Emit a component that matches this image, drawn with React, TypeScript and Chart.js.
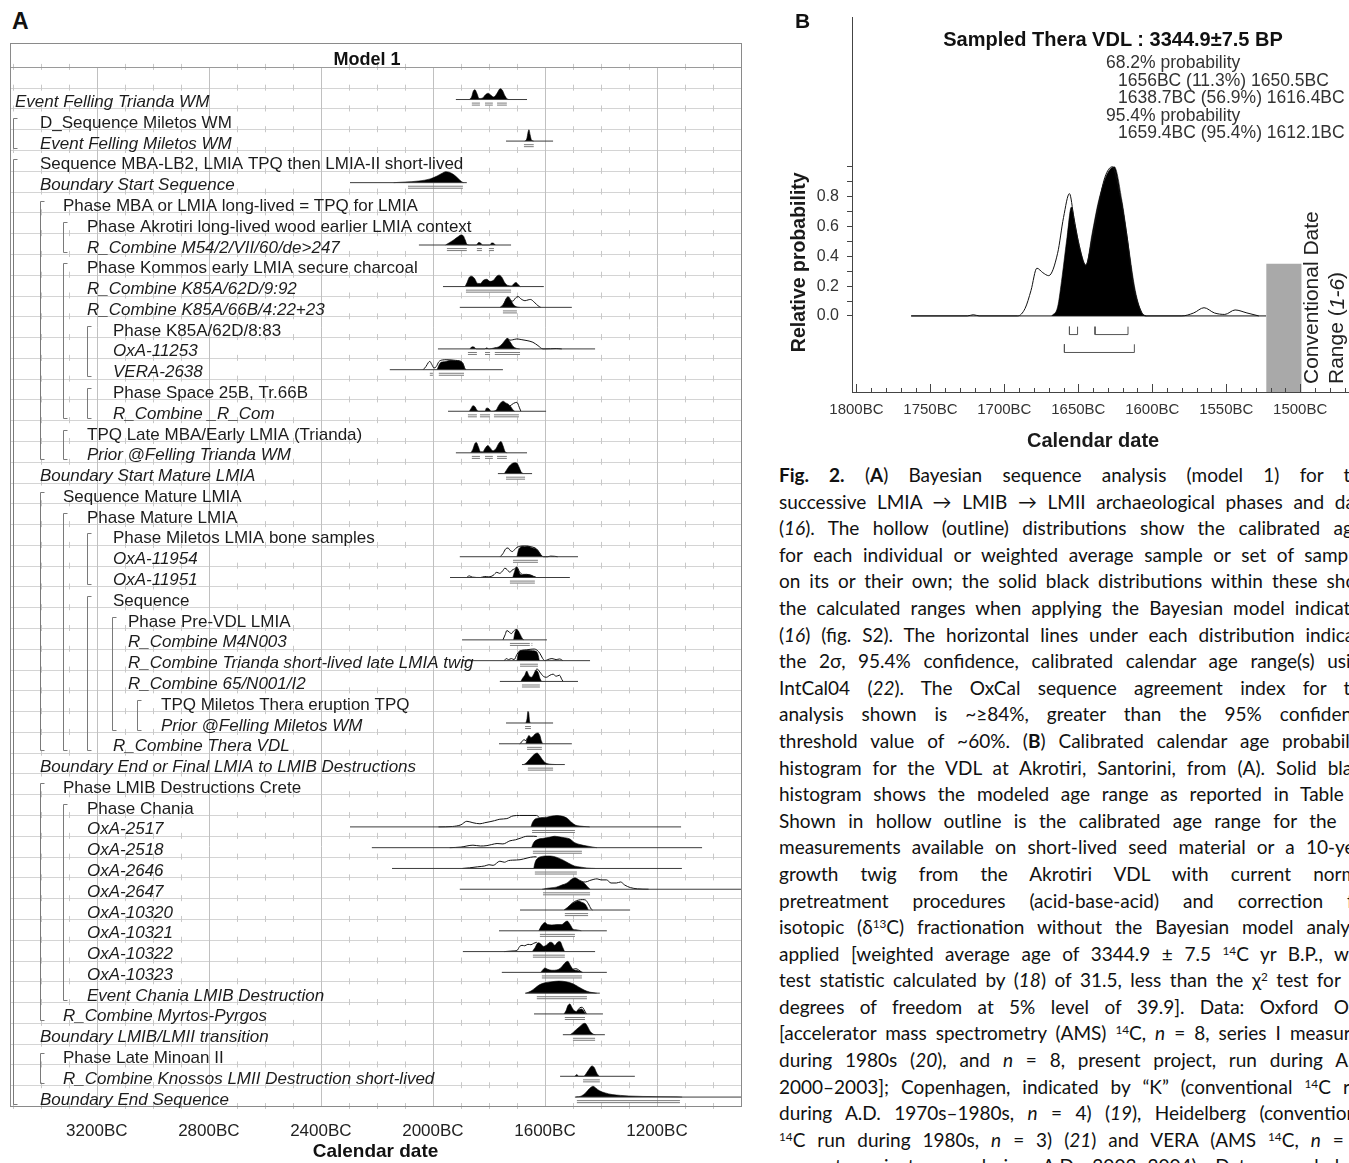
import React, { useEffect, useRef } from "react";
import { Chart, registerables } from "chart.js";

Chart.register(...registerables);

const FONT = '"Liberation Sans", Arial, Helvetica, sans-serif';

/* ---------------- Panel A data ---------------- */
const rowLabels = [
  "Event Felling Trianda WM",
  "D_Sequence Miletos WM",
  "Event Felling Miletos WM",
  "Sequence MBA-LB2, LMIA TPQ then LMIA-II short-lived",
  "Boundary Start Sequence",
  "Phase MBA or LMIA long-lived = TPQ for LMIA",
  "Phase Akrotiri long-lived wood earlier LMIA context",
  "R_Combine M54/2/VII/60/de>247",
  "Phase Kommos early LMIA secure charcoal",
  "R_Combine K85A/62D/9:92",
  "R_Combine K85A/66B/4:22+23",
  "Phase K85A/62D/8:83",
  "OxA-11253",
  "VERA-2638",
  "Phase Space 25B, Tr.66B",
  "R_Combine _R_Com",
  "TPQ Late MBA/Early LMIA (Trianda)",
  "Prior @Felling Trianda WM",
  "Boundary Start Mature LMIA",
  "Sequence Mature LMIA",
  "Phase Mature LMIA",
  "Phase Miletos LMIA bone samples",
  "OxA-11954",
  "OxA-11951",
  "Sequence",
  "Phase Pre-VDL LMIA",
  "R_Combine M4N003",
  "R_Combine Trianda short-lived late LMIA twig",
  "R_Combine 65/N001/I2",
  "TPQ Miletos Thera eruption TPQ",
  "Prior @Felling Miletos WM",
  "R_Combine Thera VDL",
  "Boundary End or Final LMIA to LMIB Destructions",
  "Phase LMIB Destructions Crete",
  "Phase Chania",
  "OxA-2517",
  "OxA-2518",
  "OxA-2646",
  "OxA-2647",
  "OxA-10320",
  "OxA-10321",
  "OxA-10322",
  "OxA-10323",
  "Event Chania LMIB Destruction",
  "R_Combine Myrtos-Pyrgos",
  "Boundary LMIB/LMII transition",
  "Phase Late Minoan II",
  "R_Combine Knossos LMII Destruction short-lived",
  "Boundary End Sequence",
];

const rowLevels = [
  0, 1, 1, 1, 1, 2, 3, 3, 3, 3, 3, 4, 4, 4, 4, 4, 3, 3, 1, 2, 3, 4, 4, 4, 4,
  5, 5, 5, 5, 6, 6, 4, 1, 2, 3, 3, 3, 3, 3, 3, 3, 3, 3, 3, 2, 1, 2, 2, 1,
];

const rowItalic = [
  1, 0, 1, 0, 1, 0, 0, 1, 0, 1, 1, 0, 1, 1, 0, 1, 0, 1, 1, 0, 0, 0, 1, 1, 0,
  0, 1, 1, 1, 0, 1, 1, 1, 0, 0, 1, 1, 1, 1, 1, 1, 1, 1, 1, 1, 1, 0, 1, 1,
];

// [first row, last row, bracket level]
const groupBrackets = [
  [1, 2, 0], [3, 48, 0], [5, 17, 1], [6, 7, 2], [8, 15, 2], [11, 13, 3],
  [14, 15, 3], [16, 17, 2], [19, 31, 1], [20, 31, 2], [21, 23, 3],
  [24, 31, 3], [25, 30, 4], [29, 30, 5], [33, 44, 1], [34, 43, 2], [46, 47, 1],
];

const yearTicksA = [3200, 2800, 2400, 2000, 1600, 1200];

// [row, from (BC), to (BC)]
const baselineSpans = [
  [0, 1918, 1664], [2, 1739, 1571], [4, 2296, 1879], [7, 2050, 1721],
  [9, 1964, 1604], [10, 1904, 1504], [12, 1982, 1421], [13, 2154, 1750],
  [15, 1946, 1596], [17, 1918, 1664], [18, 1768, 1646], [22, 1904, 1482],
  [23, 1939, 1511], [26, 1896, 1593], [27, 1896, 1439], [28, 1761, 1482],
  [30, 1739, 1571], [31, 1764, 1504], [32, 1682, 1529], [35, 2296, 1114],
  [36, 2218, 1039], [37, 2146, 1111], [38, 1904, 900], [39, 1689, 1296],
  [40, 1764, 1379], [41, 1893, 1421], [42, 1754, 1379], [43, 1671, 1404],
  [44, 1639, 1393], [45, 1536, 1386], [47, 1546, 1279], [48, 1493, 900],
];

// [row, [[year BC, height], ...]] modelled (solid) distributions
const posteriorCurves: [number, number[][]][] = [
  [0, [[1870, 0], [1862, 0.12], [1856, 0.4], [1850, 0.47], [1843, 0.3], [1835, 0.05], [1824, 0.06], [1813, 0.22], [1803, 0.3], [1794, 0.22], [1783, 0.12], [1771, 0.3], [1760, 0.52], [1752, 0.45], [1743, 0.18], [1735, 0.03], [1728, 0]]],
  [2, [[1672, 0], [1665, 0.1], [1660, 0.45], [1657, 0.55], [1653, 0.3], [1648, 0.05], [1640, 0]]],
  [4, [[2140, 0], [2100, 0.03], [2050, 0.08], [2010, 0.18], [1985, 0.32], [1965, 0.47], [1955, 0.53], [1942, 0.5], [1925, 0.38], [1910, 0.2], [1897, 0.04], [1890, 0]]],
  [7, [[1955, 0], [1940, 0.12], [1925, 0.25], [1912, 0.38], [1900, 0.48], [1892, 0.45], [1885, 0.25], [1878, 0.02], [1870, 0], [1845, 0], [1837, 0.12], [1830, 0.1], [1823, 0], [1797, 0], [1790, 0.1], [1783, 0.08], [1777, 0]]],
  [9, [[1885, 0], [1878, 0.2], [1870, 0.45], [1862, 0.5], [1852, 0.4], [1840, 0.15], [1830, 0.15], [1820, 0.3], [1808, 0.35], [1796, 0.25], [1784, 0.3], [1772, 0.5], [1764, 0.55], [1754, 0.45], [1744, 0.2], [1732, 0.05], [1720, 0.03], [1710, 0.15], [1703, 0.2], [1696, 0.1], [1688, 0]]],
  [10, [[1758, 0], [1750, 0.1], [1742, 0.3], [1735, 0.48], [1730, 0.5], [1722, 0.35], [1712, 0.12], [1700, 0.02], [1690, 0]]],
  [12, [[1868, 0], [1860, 0.1], [1852, 0.08], [1845, 0], [1815, 0], [1808, 0.05], [1800, 0], [1780, 0.05], [1765, 0.1], [1752, 0.25], [1740, 0.45], [1733, 0.5], [1725, 0.35], [1712, 0.1], [1700, 0.02], [1690, 0]]],
  [13, [[1985, 0], [1979, 0.2], [1972, 0.35], [1960, 0.38], [1948, 0.42], [1935, 0.45], [1920, 0.43], [1905, 0.42], [1893, 0.3], [1886, 0.05], [1882, 0]]],
  [15, [[1870, 0], [1863, 0.15], [1857, 0.27], [1850, 0.22], [1842, 0.04], [1835, 0], [1815, 0], [1808, 0.16], [1800, 0.12], [1792, 0], [1775, 0.05], [1765, 0.28], [1755, 0.45], [1749, 0.48], [1740, 0.4], [1732, 0.35], [1722, 0.22], [1715, 0.08], [1708, 0]]],
  [17, [[1865, 0], [1858, 0.15], [1850, 0.45], [1845, 0.5], [1838, 0.3], [1830, 0.05], [1822, 0.05], [1812, 0.25], [1804, 0.35], [1796, 0.25], [1786, 0.1], [1775, 0.2], [1765, 0.45], [1757, 0.55], [1750, 0.35], [1742, 0.05], [1735, 0]]],
  [18, [[1745, 0], [1738, 0.15], [1728, 0.35], [1718, 0.48], [1708, 0.52], [1700, 0.5], [1692, 0.3], [1685, 0.08], [1678, 0]]],
  [22, [[1700, 0], [1694, 0.35], [1688, 0.45], [1680, 0.5], [1672, 0.48], [1664, 0.5], [1655, 0.48], [1645, 0.42], [1635, 0.4], [1625, 0.3], [1615, 0.1], [1608, 0]]],
  [23, [[1715, 0], [1708, 0.3], [1702, 0.5], [1695, 0.35], [1688, 0.15], [1678, 0.12], [1665, 0.15], [1650, 0.12], [1640, 0.05], [1632, 0]]],
  [26, [[1712, 0], [1707, 0.35], [1702, 0.5], [1696, 0.45], [1688, 0.25], [1680, 0.05], [1675, 0]]],
  [27, [[1700, 0], [1694, 0.4], [1685, 0.48], [1675, 0.5], [1660, 0.5], [1645, 0.48], [1632, 0.45], [1625, 0.3], [1620, 0]]],
  [28, [[1686, 0], [1680, 0.15], [1672, 0.3], [1665, 0.5], [1658, 0.3], [1648, 0.2], [1640, 0.35], [1632, 0.52], [1625, 0.45], [1618, 0.15], [1612, 0]]],
  [30, [[1668, 0], [1664, 0.2], [1661, 0.55], [1658, 0.5], [1655, 0.1], [1652, 0]]],
  [31, [[1668, 0], [1663, 0.25], [1657, 0.4], [1650, 0.3], [1643, 0.35], [1634, 0.48], [1625, 0.52], [1618, 0.4], [1613, 0.15], [1608, 0]]],
  [32, [[1675, 0], [1665, 0.1], [1655, 0.25], [1645, 0.4], [1635, 0.52], [1628, 0.55], [1620, 0.45], [1610, 0.25], [1600, 0.1], [1590, 0.04], [1575, 0.01], [1560, 0]]],
  [35, [[1650, 0], [1645, 0.2], [1635, 0.38], [1625, 0.42], [1610, 0.45], [1593, 0.47], [1575, 0.52], [1557, 0.55], [1540, 0.52], [1521, 0.42], [1505, 0.22], [1490, 0.08], [1475, 0.04], [1450, 0.01], [1440, 0]]],
  [36, [[1648, 0], [1640, 0.25], [1625, 0.4], [1605, 0.45], [1585, 0.5], [1565, 0.55], [1550, 0.52], [1530, 0.48], [1511, 0.42], [1495, 0.25], [1475, 0.15], [1450, 0.08], [1425, 0.02], [1414, 0]]],
  [37, [[1640, 0], [1635, 0.3], [1625, 0.5], [1610, 0.58], [1590, 0.6], [1570, 0.58], [1555, 0.52], [1535, 0.4], [1515, 0.25], [1495, 0.12], [1470, 0.06], [1450, 0.02], [1420, 0]]],
  [38, [[1610, 0], [1590, 0.05], [1560, 0.1], [1540, 0.2], [1521, 0.3], [1505, 0.48], [1493, 0.55], [1478, 0.45], [1464, 0.35], [1450, 0.15], [1439, 0]]],
  [39, [[1532, 0], [1520, 0.12], [1505, 0.3], [1490, 0.4], [1482, 0.43], [1470, 0.38], [1458, 0.3], [1450, 0.15], [1445, 0]]],
  [40, [[1622, 0], [1612, 0.25], [1600, 0.4], [1590, 0.3], [1575, 0.28], [1557, 0.3], [1540, 0.3], [1530, 0.4], [1521, 0.47], [1510, 0.3], [1500, 0.08], [1490, 0.05], [1480, 0.03], [1470, 0]]],
  [41, [[1645, 0], [1635, 0.2], [1625, 0.42], [1618, 0.4], [1605, 0.25], [1595, 0.3], [1582, 0.45], [1575, 0.44], [1565, 0.3], [1555, 0.45], [1546, 0.48], [1538, 0.25], [1530, 0]]],
  [42, [[1615, 0], [1608, 0.12], [1600, 0.21], [1590, 0.15], [1575, 0.1], [1557, 0.12], [1545, 0.2], [1535, 0.35], [1525, 0.5], [1518, 0.53], [1510, 0.35], [1500, 0.15], [1488, 0.1], [1475, 0.05], [1465, 0]]],
  [43, [[1668, 0], [1650, 0.1], [1635, 0.25], [1620, 0.4], [1600, 0.5], [1575, 0.55], [1550, 0.58], [1525, 0.55], [1500, 0.45], [1480, 0.3], [1460, 0.15], [1440, 0.05], [1415, 0]]],
  [44, [[1532, 0], [1525, 0.15], [1518, 0.4], [1511, 0.48], [1503, 0.3], [1495, 0.15], [1488, 0.12], [1480, 0.2], [1470, 0.24], [1462, 0.15], [1455, 0]]],
  [45, [[1510, 0], [1500, 0.1], [1488, 0.25], [1475, 0.4], [1465, 0.52], [1457, 0.55], [1448, 0.4], [1438, 0.15], [1428, 0.03], [1420, 0]]],
  [47, [[1493, 0], [1486, 0.08], [1480, 0], [1462, 0], [1452, 0.15], [1442, 0.35], [1432, 0.5], [1424, 0.42], [1415, 0.15], [1406, 0]]],
  [48, [[1490, 0], [1470, 0.05], [1455, 0.2], [1440, 0.42], [1428, 0.52], [1420, 0.45], [1405, 0.3], [1385, 0.2], [1360, 0.12], [1330, 0.08], [1300, 0.05], [1250, 0.03], [1200, 0.02], [1150, 0.01], [1110, 0]]],
];

// [row, [[year BC, height], ...]] unmodelled (hollow) distributions
const likelihoodCurves: [number, number[][]][] = [
  [10, [[1760, 0], [1748, 0.15], [1738, 0.42], [1732, 0.5], [1725, 0.35], [1715, 0.3], [1705, 0.45], [1696, 0.52], [1685, 0.4], [1671, 0.32], [1660, 0.36], [1652, 0.38], [1636, 0.22], [1625, 0.08], [1615, 0]]],
  [12, [[1740, 0.45], [1733, 0.5], [1725, 0.42], [1715, 0.44], [1700, 0.48], [1685, 0.45], [1664, 0.4], [1643, 0.32], [1625, 0.16], [1607, 0], [1580, 0.01], [1560, 0.02], [1540, 0]]],
  [13, [[2035, 0], [2025, 0.15], [2016, 0.35], [2011, 0.4], [2004, 0.25], [1996, 0.08], [1988, 0.15], [1979, 0.38], [1965, 0.47], [1950, 0.48], [1935, 0.47], [1920, 0.45], [1905, 0.42], [1893, 0.3], [1886, 0.05], [1882, 0]]],
  [15, [[1725, 0.25], [1712, 0.38], [1700, 0.43], [1692, 0.2], [1686, 0]]],
  [22, [[1760, 0], [1750, 0.15], [1740, 0.38], [1732, 0.42], [1724, 0.3], [1716, 0.25], [1708, 0.35], [1700, 0.45], [1690, 0.5], [1680, 0.52], [1665, 0.52], [1650, 0.48], [1635, 0.42], [1625, 0.3], [1615, 0.1], [1605, 0], [1590, 0], [1580, 0.03], [1565, 0.02], [1555, 0]]],
  [23, [[1880, 0], [1870, 0.08], [1860, 0.02], [1830, 0], [1815, 0.05], [1800, 0.03], [1785, 0.1], [1772, 0.25], [1762, 0.2], [1752, 0.3], [1743, 0.45], [1735, 0.38], [1725, 0.25], [1718, 0.35], [1708, 0.42], [1700, 0.5], [1692, 0.3], [1680, 0.15], [1665, 0.15], [1650, 0.1], [1640, 0.05], [1630, 0]]],
  [26, [[1750, 0], [1742, 0.25], [1736, 0.45], [1728, 0.38], [1720, 0.3], [1712, 0.42], [1703, 0.5], [1695, 0.4]]],
  [27, [[1745, 0], [1738, 0.1], [1730, 0.05], [1720, 0.1], [1710, 0.05], [1700, 0.3], [1692, 0.45], [1680, 0.5], [1665, 0.52], [1650, 0.55], [1638, 0.56], [1628, 0.5], [1618, 0.35], [1608, 0.1], [1600, 0], [1590, 0.05], [1575, 0.1], [1560, 0.05], [1548, 0.08], [1536, 0]]],
  [28, [[1636, 0.5], [1628, 0.6], [1618, 0.45], [1606, 0.25], [1595, 0.2], [1582, 0.3], [1571, 0.35], [1560, 0.25], [1548, 0.3], [1540, 0.1], [1535, 0]]],
  [31, [[1690, 0], [1682, 0.1], [1675, 0.2], [1668, 0.15], [1663, 0.28]]],
  [35, [[1980, 0], [1930, 0.02], [1900, 0.1], [1879, 0.27], [1857, 0.2], [1832, 0.15], [1815, 0.2], [1796, 0.25], [1780, 0.3], [1761, 0.37], [1736, 0.4], [1714, 0.53], [1690, 0.55], [1664, 0.55], [1630, 0.55], [1620, 0.45]]],
  [36, [[1940, 0], [1900, 0.03], [1857, 0.12], [1830, 0.08], [1807, 0.1], [1790, 0.15], [1771, 0.2], [1750, 0.18], [1725, 0.33], [1705, 0.38], [1689, 0.45], [1664, 0.55], [1640, 0.55], [1629, 0.54]]],
  [37, [[1895, 0], [1870, 0.03], [1840, 0.08], [1815, 0.12], [1800, 0.18], [1785, 0.15], [1761, 0.35], [1745, 0.3], [1730, 0.38], [1715, 0.4], [1689, 0.42], [1664, 0.5], [1640, 0.56], [1630, 0.56]]],
  [38, [[1470, 0.35], [1455, 0.35], [1440, 0.42], [1425, 0.48], [1414, 0.5], [1400, 0.45], [1380, 0.45], [1364, 0.3], [1345, 0.3], [1330, 0.35], [1315, 0.2], [1295, 0.08], [1270, 0.02], [1230, 0]]],
  [39, [[1505, 0.3], [1495, 0.4], [1480, 0.48], [1465, 0.5], [1455, 0.48], [1445, 0.3], [1435, 0.05], [1430, 0]]],
  [41, [[1745, 0], [1714, 0.03], [1700, 0.05], [1690, 0.25], [1682, 0.3], [1672, 0.28], [1661, 0.35], [1650, 0.33], [1640, 0.4], [1629, 0.45]]],
  [42, [[1500, 0.15], [1490, 0.18], [1480, 0.12], [1470, 0.02]]],
  [44, [[1485, 0.15], [1475, 0.3], [1467, 0.32], [1460, 0.2], [1452, 0]]],
];

// [row, from (BC), to (BC)] 95.4% ranges
const rangeBars = [
  [0, 1861, 1832], [0, 1814, 1786], [0, 1771, 1736], [2, 1675, 1640],
  [4, 2089, 1893], [7, 1950, 1879], [7, 1843, 1825], [7, 1800, 1782],
  [9, 1882, 1721], [10, 1750, 1700], [12, 1875, 1843], [12, 1814, 1796],
  [12, 1779, 1689], [13, 2011, 2000], [13, 1979, 1889], [15, 1875, 1843],
  [15, 1832, 1796], [15, 1782, 1693], [17, 1861, 1832], [17, 1814, 1786],
  [17, 1771, 1736], [18, 1739, 1671], [22, 1714, 1625], [23, 1725, 1636],
  [26, 1725, 1654], [26, 1648, 1645], [27, 1689, 1625], [28, 1682, 1618],
  [30, 1671, 1650], [31, 1664, 1611], [32, 1661, 1571], [35, 1646, 1493],
  [36, 1643, 1468], [37, 1636, 1486], [38, 1607, 1439], [39, 1529, 1446],
  [40, 1618, 1493], [41, 1643, 1529], [42, 1611, 1468], [43, 1629, 1450],
  [44, 1529, 1457], [45, 1500, 1421], [47, 1464, 1404], [48, 1486, 1118],
];

/* ---------------- Panel B data ---------------- */
const bTicks = [1800, 1750, 1700, 1650, 1600, 1550, 1500];
const bYTicks = [0, 0.1, 0.2, 0.3, 0.4, 0.5, 0.6, 0.7, 0.8, 0.9, 1.0];
const bBaseline = [1763, 1523];
const bLikelihood = [
  [1763, 0], [1725, 0], [1721, 0.008], [1717, 0], [1691, 0], [1686, 0.05],
  [1682, 0.17], [1678, 0.32], [1674, 0.29], [1670, 0.27], [1664, 0.42],
  [1660, 0.66], [1656, 0.82], [1653, 0.66], [1650, 0.5], [1645, 0.34],
  [1641, 0.5], [1637, 0.71], [1632, 0.93], [1627, 1.0], [1622, 0.82],
  [1617, 0.53], [1613, 0.22], [1607, 0.02], [1604, 0], [1580, 0],
  [1572, 0.02], [1565, 0.055], [1558, 0.02], [1551, 0.01], [1544, 0.04],
  [1536, 0.02], [1528, 0],
];
const bPosterior = [
  [1668, 0], [1664, 0.06], [1661, 0.26], [1657.6, 0.53], [1654.7, 0.73],
  [1652, 0.6], [1648.6, 0.44], [1644.8, 0.34], [1640.7, 0.55],
  [1636.3, 0.77], [1630.6, 0.95], [1625.7, 1.0], [1620.5, 0.77],
  [1616, 0.46], [1611.5, 0.17], [1607, 0.02], [1604, 0],
];
const b68Ranges = [[1656, 1650.5], [1638.7, 1616.4]];
const b95Ranges = [[1659.4, 1612.1]];
const conventionalRange = [1523, 1499];
const conventionalHeight = 0.35;
// [text, indented]
const probabilityLines: [string, number][] = [
  ["68.2% probability", 0],
  ["1656BC (11.3%) 1650.5BC", 1],
  ["1638.7BC (56.9%) 1616.4BC", 1],
  ["95.4% probability", 0],
  ["1659.4BC (95.4%) 1612.1BC", 1],
];

/* ---------------- Caption ---------------- */
const captionLines = [
  "<b>Fig. 2.</b> (<b>A</b>) Bayesian sequence analysis (model 1) for the",
  "successive LMIA \u2192 LMIB \u2192 LMII archaeological phases and data",
  "(<i>16</i>). The hollow (outline) distributions show the calibrated ages",
  "for each individual or weighted average sample or set of samples",
  "on its or their own; the solid black distributions within these show",
  "the calculated ranges when applying the Bayesian model indicated",
  "(<i>16</i>) (fig. S2). The horizontal lines under each distribution indicate",
  "the 2\u03c3, 95.4% confidence, calibrated calendar age range(s) using",
  "IntCal04 (<i>22</i>). The OxCal sequence agreement index for the",
  "analysis shown is ~\u226584%, greater than the 95% confidence",
  "threshold value of ~60%. (<b>B</b>) Calibrated calendar age probability",
  "histogram for the VDL at Akrotiri, Santorini, from (A). Solid black",
  "histogram shows the modeled age range as reported in Table 1.",
  "Shown in hollow outline is the calibrated age range for the 16",
  "measurements available on short-lived seed material or a 10-year",
  "growth twig from the Akrotiri VDL with current normal",
  "pretreatment procedures (acid-base-acid) and correction for",
  "isotopic (\u03b4<sup>13</sup>C) fractionation without the Bayesian model analysis",
  "applied [weighted average age of 3344.9 \u00b1 7.5 <sup>14</sup>C yr B.P., with",
  "test statistic calculated by (<i>18</i>) of 31.5, less than the \u03c7<sup>2</sup> test for 15",
  "degrees of freedom at 5% level of 39.9]. Data: Oxford OxA",
  "[accelerator mass spectrometry (AMS) <sup>14</sup>C, <i>n</i> = 8, series I measured",
  "during 1980s (<i>20</i>), and <i>n</i> = 8, present project, run during A.D.",
  "2000\u20132003]; Copenhagen, indicated by \u201cK\u201d (conventional <sup>14</sup>C run",
  "during A.D. 1970s\u20131980s, <i>n</i> = 4) (<i>19</i>), Heidelberg (conventional",
  "<sup>14</sup>C run during 1980s, <i>n</i> = 3) (<i>21</i>) and VERA (AMS <sup>14</sup>C, <i>n</i> = 8,",
  "present project, run during A.D. 2003\u20132004). Data rounded to",
];

/* ---------------- helpers ---------------- */
const BASE = 0.07; // baseline offset inside a row
const RANGE_OFF = 0.22;
const labelX = [15, 40, 63, 87, 113, 128, 161];
const bracketX = [13, 40, 63, 87, 112, 137];

const line = (ctx: CanvasRenderingContext2D, x1: number, y1: number, x2: number, y2: number) => {
  ctx.beginPath();
  ctx.moveTo(x1, y1);
  ctx.lineTo(x2, y2);
  ctx.stroke();
};

function buildPanelA(canvas: HTMLCanvasElement) {
  const datasets: any[] = [];
  baselineSpans.forEach(([r, a, b]) =>
    datasets.push({
      data: [{ x: a, y: r + BASE }, { x: b, y: r + BASE }],
      borderColor: "#3c3c3c",
      borderWidth: 1,
      pointRadius: 0,
      fill: false,
    })
  );
  rangeBars.forEach(([r, a, b]) => {
    [-0.048, 0.048].forEach((d) =>
      datasets.push({
        data: [{ x: a, y: r + BASE + RANGE_OFF + d }, { x: b, y: r + BASE + RANGE_OFF + d }],
        borderColor: "#7c7c7c",
        borderWidth: 1,
        pointRadius: 0,
        fill: false,
      })
    );
  });
  likelihoodCurves.forEach(([r, pts]) =>
    datasets.push({
      data: pts.map(([x, h]) => ({ x, y: r + BASE - h })),
      borderColor: "#111",
      borderWidth: 1,
      pointRadius: 0,
      fill: false,
      cubicInterpolationMode: "monotone",
    })
  );
  posteriorCurves.forEach(([r, pts]) =>
    datasets.push({
      data: pts.map(([x, h]) => ({ x, y: r + BASE - h })),
      borderColor: "#000",
      backgroundColor: "#000",
      borderWidth: 0.6,
      pointRadius: 0,
      fill: { value: r + BASE },
      cubicInterpolationMode: "monotone",
    })
  );

  const gridPlugin = {
    id: "gridA",
    beforeDatasetsDraw(chart: any) {
      const { ctx, chartArea: ca, scales } = chart;
      const x = scales.x;
      const y = scales.y;
      ctx.save();
      ctx.lineWidth = 1;
      const topLine = Math.round(y.getPixelForValue(-1.5)) + 0.5;
      ctx.strokeStyle = "#d4d4d4";
      for (let i = -1; i <= 47; i++) {
        const py = Math.round(y.getPixelForValue(i + 0.5)) + 0.5;
        line(ctx, ca.left, py, ca.right, py);
      }
      ctx.strokeStyle = "#c0c0c0";
      yearTicksA.forEach((v) => {
        const px = Math.round(x.getPixelForValue(v)) + 0.5;
        line(ctx, px, topLine, px, ca.bottom);
      });
      ctx.strokeStyle = "#c8c8c8";
      for (let i = -2; i <= 48; i++) {
        const py = y.getPixelForValue(i + 0.5);
        for (let yr = 3500; yr >= 1000; yr -= 100) {
          if (yr % 400 === 0) continue;
          const px = Math.round(x.getPixelForValue(yr)) + 0.5;
          line(ctx, px, py - 3, px, py + 3);
        }
      }
      ctx.strokeStyle = "#9a9a9a";
      line(ctx, ca.left, topLine, ca.right, topLine);
      ctx.restore();
    },
    afterDatasetsDraw(chart: any) {
      const { ctx, chartArea: ca, scales } = chart;
      const y = scales.y;
      ctx.save();
      ctx.strokeStyle = "#8a8a8a";
      ctx.lineWidth = 1;
      ctx.strokeRect(Math.round(ca.left) + 0.5, Math.round(ca.top) + 0.5, Math.round(ca.right - ca.left), Math.round(ca.bottom - ca.top));
      ctx.fillStyle = "#111";
      ctx.font = `bold 18px ${FONT}`;
      ctx.textAlign = "center";
      ctx.textBaseline = "alphabetic";
      ctx.fillText("Model 1", 367, y.getPixelForValue(-2.05) + 10);
      ctx.textAlign = "left";
      rowLabels.forEach((lab, i) => {
        ctx.font = `${rowItalic[i] ? "italic " : ""}17px ${FONT}`;
        ctx.fillStyle = "#1c1c1c";
        ctx.fillText(lab, labelX[rowLevels[i]], y.getPixelForValue(i) + 9);
      });
      ctx.strokeStyle = "#7a7a7a";
      ctx.lineWidth = 1;
      groupBrackets.forEach(([s, e, lv]) => {
        const bx = bracketX[lv] + 0.5;
        const y1 = Math.round(y.getPixelForValue(s)) - 0.5;
        const y2 = Math.round(y.getPixelForValue(e)) + 8.5;
        ctx.beginPath();
        ctx.moveTo(bx + 4, y1);
        ctx.lineTo(bx, y1);
        ctx.lineTo(bx, y2);
        ctx.lineTo(bx + 4, y2);
        ctx.stroke();
      });
      ctx.restore();
    },
  };

  return new Chart(canvas, {
    type: "line",
    data: { datasets },
    plugins: [gridPlugin],
    options: {
      responsive: false,
      animation: false,
      events: [],
      layout: { padding: { left: 10, right: 9, top: 43, bottom: 0 } },
      plugins: { legend: { display: false }, tooltip: { enabled: false } },
      elements: { point: { radius: 0 } },
      scales: {
        x: {
          type: "linear",
          reverse: true,
          min: 900,
          max: 3510,
          afterBuildTicks: (s: any) => {
            s.ticks = yearTicksA.map((v) => ({ value: v }));
          },
          afterFit: (s: any) => {
            s.height = 57;
          },
          ticks: {
            callback: (v: any) => `${v}BC`,
            font: { family: FONT, size: 17 },
            color: "#222",
            padding: 15,
            maxRotation: 0,
            autoSkip: false,
          },
          grid: { drawOnChartArea: false, drawTicks: false },
          border: { display: false },
          title: {
            display: true,
            text: "Calendar date",
            font: { family: FONT, size: 19, weight: "bold" },
            color: "#111",
            padding: { top: 0, bottom: 0 },
          },
        },
        y: { type: "linear", reverse: true, min: -2.65, max: 48.5, display: false },
      },
    } as any,
  });
}

function buildPanelB(canvas: HTMLCanvasElement) {
  const datasets: any[] = [];
  datasets.push({
    data: [
      { x: conventionalRange[0], y: -0.51 },
      { x: conventionalRange[0], y: conventionalHeight },
      { x: conventionalRange[1], y: conventionalHeight },
      { x: conventionalRange[1], y: -0.51 },
    ],
    borderWidth: 0,
    borderColor: "rgba(0,0,0,0)",
    backgroundColor: "#a9a9a9",
    fill: { value: -0.51 },
    pointRadius: 0,
  });
  datasets.push({
    data: [{ x: bBaseline[0], y: 0 }, { x: bBaseline[1], y: 0 }],
    borderColor: "#111",
    borderWidth: 1,
    pointRadius: 0,
    fill: false,
  });
  datasets.push({
    data: bLikelihood.map(([x, h]) => ({ x, y: h })),
    borderColor: "#111",
    borderWidth: 1,
    pointRadius: 0,
    fill: false,
    cubicInterpolationMode: "monotone",
  });
  datasets.push({
    data: bPosterior.map(([x, h]) => ({ x, y: h })),
    borderColor: "#000",
    backgroundColor: "#000",
    borderWidth: 0.6,
    pointRadius: 0,
    fill: { value: 0 },
    cubicInterpolationMode: "monotone",
  });
  const bracket = (a: number, b: number, yLow: number, yHigh: number) => ({
    data: [
      { x: a, y: yHigh },
      { x: a, y: yLow },
      { x: b, y: yLow },
      { x: b, y: yHigh },
    ],
    borderColor: "#555",
    borderWidth: 1,
    pointRadius: 0,
    fill: false,
  });
  b68Ranges.forEach(([a, b]) => datasets.push(bracket(a, b, -0.125, -0.072)));
  b95Ranges.forEach(([a, b]) => datasets.push(bracket(a, b, -0.245, -0.19)));

  const tickPlugin = {
    id: "ticksB",
    afterDatasetsDraw(chart: any) {
      const { ctx, chartArea: ca, scales } = chart;
      const x = scales.x;
      const y = scales.y;
      ctx.save();
      ctx.strokeStyle = "#444";
      ctx.lineWidth = 1;
      for (let yr = 1800; yr >= 1470; yr -= 10) {
        const px = Math.round(x.getPixelForValue(yr)) + 0.5;
        const len = yr % 50 === 0 ? 8 : 4;
        line(ctx, px, ca.bottom, px, ca.bottom - len);
      }
      ctx.fillStyle = "#1a1a1a";
      ctx.textBaseline = "middle";
      ctx.textAlign = "center";
      ctx.font = `bold 20px ${FONT}`;
      ctx.fillText("Calendar date", x.getPixelForValue(1640), 441);
      ctx.save();
      ctx.translate(20, y.getPixelForValue(0.36));
      ctx.rotate(-Math.PI / 2);
      ctx.font = `bold 19.5px ${FONT}`;
      ctx.fillText("Relative probability", 0, 0);
      ctx.restore();
      const bx = x.getPixelForValue(conventionalRange[1]);
      ctx.fillStyle = "#222";
      ctx.textAlign = "left";
      ctx.font = `21px ${FONT}`;
      ctx.save();
      ctx.translate(bx + 11, ca.bottom - 8);
      ctx.rotate(-Math.PI / 2);
      ctx.fillText("Conventional Date", 0, 0);
      ctx.restore();
      ctx.save();
      ctx.translate(bx + 36, ca.bottom - 8);
      ctx.rotate(-Math.PI / 2);
      let off = 0;
      const parts: [string, string][] = [["Range (", ""], ["1-6", "italic "], [")", ""]];
      parts.forEach(([t, st]) => {
        ctx.font = `${st}21px ${FONT}`;
        ctx.fillText(t, off, 0);
        off += ctx.measureText(t).width;
      });
      ctx.restore();
      ctx.restore();
    },
  };

  return new Chart(canvas, {
    type: "line",
    data: { datasets },
    plugins: [tickPlugin],
    options: {
      responsive: false,
      animation: false,
      events: [],
      layout: { padding: { left: 0, right: 0, top: 15, bottom: 0 } },
      plugins: { legend: { display: false }, tooltip: { enabled: false } },
      scales: {
        x: {
          type: "linear",
          reverse: true,
          min: 1467,
          max: 1803,
          afterBuildTicks: (s: any) => {
            s.ticks = bTicks.map((v) => ({ value: v }));
          },
          afterFit: (s: any) => {
            s.height = 68;
          },
          ticks: {
            callback: (v: any) => `${v}BC`,
            font: { family: FONT, size: 15 },
            color: "#333",
            padding: 9,
            maxRotation: 0,
            autoSkip: false,
          },
          grid: { drawOnChartArea: false, drawTicks: false },
          border: { display: true, color: "#444", width: 1 },
          title: { display: false },
        },
        y: {
          type: "linear",
          min: -0.51,
          max: 2.0,
          afterBuildTicks: (s: any) => {
            s.ticks = bYTicks.map((v) => ({ value: v }));
          },
          afterFit: (s: any) => {
            s.width = 72;
          },
          ticks: {
            callback: (v: any) => {
              const k = Math.round(v * 10);
              return k % 2 === 0 && k <= 8 ? (k / 10).toFixed(1) : "";
            },
            font: { family: FONT, size: 16 },
            color: "#333",
            padding: 8,
            autoSkip: false,
          },
          grid: { drawOnChartArea: false, drawTicks: true, tickLength: 5, color: "#444" },
          border: { display: true, color: "#444", width: 1 },
          title: { display: false },
        },
      },
    } as any,
  });
}

export default function App() {
  const refA = useRef<HTMLCanvasElement>(null);
  const refB = useRef<HTMLCanvasElement>(null);

  useEffect(() => {
    const a = buildPanelA(refA.current!);
    const b = buildPanelB(refB.current!);
    return () => {
      a.destroy();
      b.destroy();
    };
  }, []);

  return (
    <div style={{ position: "absolute", left: 0, top: 0, width: 1349, height: 1163, overflow: "hidden", background: "#fff", fontFamily: FONT }}>
      <div style={{ position: "absolute", left: 12, top: 8, fontSize: 23, fontWeight: "bold", color: "#111" }}>A</div>
      <canvas ref={refA} width={750} height={1163} style={{ position: "absolute", left: 0, top: 0 }} />
      <canvas ref={refB} width={569} height={460} style={{ position: "absolute", left: 780, top: 0 }} />
      <div style={{ position: "absolute", left: 795, top: 9, fontSize: 21, fontWeight: "bold", color: "#111" }}>B</div>
      <div style={{ position: "absolute", left: 893, width: 440, top: 27, textAlign: "center", fontSize: 20, lineHeight: "24px", fontWeight: "bold", color: "#111" }}>
        Sampled Thera VDL : 3344.9±7.5 BP
      </div>
      <div style={{ position: "absolute", left: 1106, top: 54, fontSize: 17.5, lineHeight: "17.5px", color: "#333", whiteSpace: "nowrap" }}>
        {probabilityLines.map(([t, ind], i) => (
          <div key={i} style={{ paddingLeft: ind ? 12 : 0, height: 17.5 }}>
            {t}
          </div>
        ))}
      </div>
      <div style={{ position: "absolute", left: 779, top: 462, width: 570, height: 701, overflow: "hidden" }}>
        {captionLines.map((t, i) => (
          <div
            key={i}
            style={{
              width: 592,
              height: 26.6,
              fontFamily: "Lato, 'Open Sans', sans-serif",
              fontSize: 19,
              lineHeight: "26.6px",
              color: "#111",
              textAlign: "justify",
              textAlignLast: "justify",
              overflow: "hidden",
            }}
            dangerouslySetInnerHTML={{ __html: t.replace(/<sup>/g, '<sup style="font-size:0.62em;line-height:0;vertical-align:0.55em">') }}
          />
        ))}
      </div>
    </div>
  );
}
